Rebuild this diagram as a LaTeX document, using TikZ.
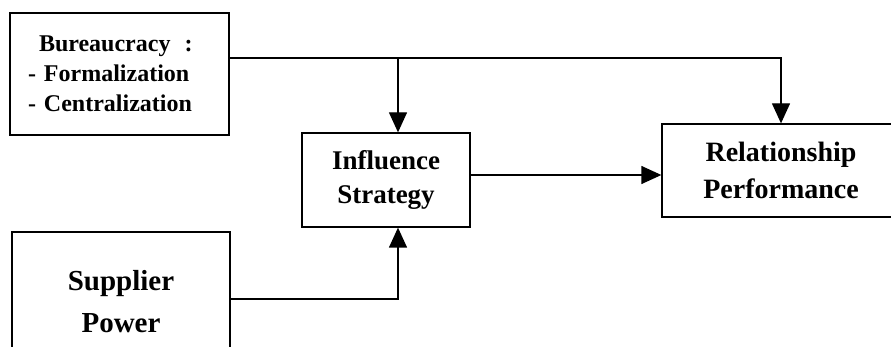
\documentclass[tikz,border=0pt]{standalone}
\usepackage{fontspec}
\setmainfont{Liberation Serif}
\usetikzlibrary{arrows.meta}

\tikzset{
  box/.style={draw, line width=1.3pt, rectangle, inner sep=0pt, align=center, font=\bfseries},
  link/.style={draw, line width=1.3pt, -{Triangle[width=18pt,length=20pt]}},
  plain/.style={draw, line width=1.3pt}
}

\begin{document}
\begin{tikzpicture}[x=1pt,y=1pt]
  \useasboundingbox (0,0) rectangle (891,-347);
  \clip (0,0) rectangle (891,-347);

  % boxes
  \node[box, minimum width=219pt, minimum height=122pt, text width=183pt, align=left,
        font=\bfseries\fontsize{24}{30}\selectfont]
    (bur) at (119.5,-74) {\hspace*{11pt}Bureaucracy\hspace{14pt}:\\- Formalization\\- Centralization};
  \node[box, minimum width=168pt, minimum height=94pt,
        font=\bfseries\fontsize{27}{34}\selectfont]
    (inf) at (386,-180) {Influence\\Strategy};
  \node[box, minimum width=238pt, minimum height=93pt,
        font=\bfseries\fontsize{28}{37}\selectfont]
    (rel) at (781,-170.5) {Relationship\\Performance};
  \node[box, minimum width=218pt, minimum height=140pt,
        font=\bfseries\fontsize{29}{42}\selectfont]
    (sup) at (121,-302) {Supplier\\Power};

  % junction points of the connectors
  \coordinate (split) at (398,-58);
  \coordinate (mid) at (0,-175);
  \coordinate (low) at (0,-299);

  % connectors
  \draw[plain] (bur.east |- split) -- (split);
  \draw[link] (split) -| (rel.north);
  \draw[link] (split) -- (split |- inf.north);
  \draw[link] (inf.east |- mid) -- (rel.west |- mid);
  \draw[link] (sup.east |- low) -| (split |- inf.south);
\end{tikzpicture}
\end{document}
